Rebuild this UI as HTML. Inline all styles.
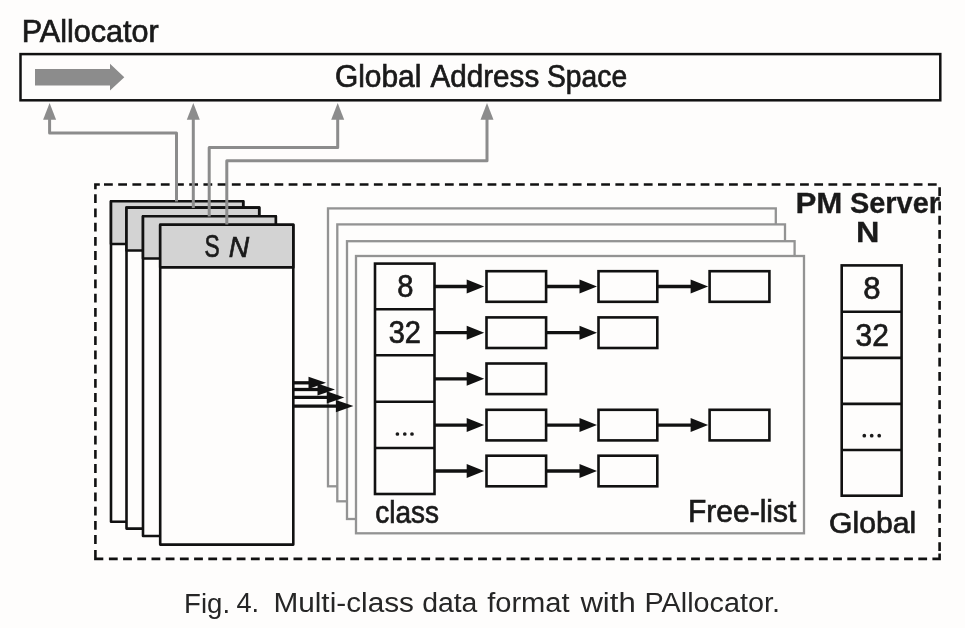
<!DOCTYPE html>
<html><head><meta charset="utf-8"><style>
html,body{margin:0;padding:0;background:#fefdfc;}
svg{display:block;will-change:transform;}
</style></head><body>
<svg width="965" height="628" viewBox="0 0 965 628">
<rect x="0" y="0" width="965" height="628" fill="#fefdfc"/>
<rect x="20.5" y="54.1" width="919.8" height="46.2" fill="#fefdfc" stroke="#111111" stroke-width="2.5"/>
<polygon points="35,69 110,69 110,63.8 124.3,77.2 110,90.6 110,85.5 35,85.5" fill="#8c8c8c"/>
<path d="M104.00 184.5H112.80 M118.20 184.5H127.00 M132.41 184.5H141.21 M146.62 184.5H155.42 M160.82 184.5H169.62 M175.03 184.5H183.83 M189.23 184.5H198.03 M203.44 184.5H212.24 M217.64 184.5H226.44 M231.84 184.5H240.65 M246.05 184.5H254.85 M260.25 184.5H269.06 M274.46 184.5H283.26 M288.66 184.5H297.46 M302.87 184.5H311.67 M317.07 184.5H325.88 M331.28 184.5H340.08 M345.49 184.5H354.29 M359.69 184.5H368.49 M373.89 184.5H382.69 M388.10 184.5H396.90 M402.31 184.5H411.11 M416.51 184.5H425.31 M430.71 184.5H439.51 M444.92 184.5H453.72 M459.12 184.5H467.93 M473.33 184.5H482.13 M487.54 184.5H496.34 M501.74 184.5H510.54 M515.94 184.5H524.74 M530.15 184.5H538.95 M544.36 184.5H553.15 M558.56 184.5H567.36 M572.76 184.5H581.56 M586.97 184.5H595.77 M601.17 184.5H609.97 M615.38 184.5H624.18 M629.59 184.5H638.38 M643.79 184.5H652.59 M658.00 184.5H666.79 M672.20 184.5H681.00 M686.40 184.5H695.20 M700.61 184.5H709.41 M714.82 184.5H723.62 M729.02 184.5H737.82 M743.23 184.5H752.02 M757.43 184.5H766.23 M771.63 184.5H780.43 M785.84 184.5H794.64 M800.04 184.5H808.84 M814.25 184.5H823.05 M828.46 184.5H837.25 M842.66 184.5H851.46 M856.87 184.5H865.66 M871.07 184.5H879.87 M885.27 184.5H894.07 M899.48 184.5H908.28 M913.69 184.5H922.49 M927.89 184.5H936.69 M95.4 194.30V203.10 M95.4 208.50V217.30 M95.4 222.70V231.50 M95.4 236.90V245.70 M95.4 251.10V259.90 M95.4 265.30V274.10 M95.4 279.50V288.30 M95.4 293.70V302.50 M95.4 307.90V316.70 M95.4 322.10V330.90 M95.4 336.30V345.10 M95.4 350.50V359.30 M95.4 364.70V373.50 M95.4 378.90V387.70 M95.4 393.10V401.90 M95.4 407.30V416.10 M95.4 421.50V430.30 M95.4 435.70V444.50 M95.4 449.90V458.70 M95.4 464.10V472.90 M95.4 478.30V487.10 M95.4 492.50V501.30 M95.4 506.70V515.50 M95.4 520.90V529.70 M95.4 535.10V543.90 M108.90 558.9H117.70 M123.10 558.9H131.90 M137.30 558.9H146.10 M151.50 558.9H160.30 M165.70 558.9H174.50 M179.90 558.9H188.70 M194.10 558.9H202.90 M208.30 558.9H217.10 M222.50 558.9H231.30 M236.70 558.9H245.50 M250.90 558.9H259.70 M265.10 558.9H273.90 M279.30 558.9H288.10 M293.50 558.9H302.30 M307.70 558.9H316.50 M321.90 558.9H330.70 M336.10 558.9H344.90 M350.30 558.9H359.10 M364.50 558.9H373.30 M378.70 558.9H387.50 M392.90 558.9H401.70 M407.10 558.9H415.90 M421.30 558.9H430.10 M435.50 558.9H444.30 M449.70 558.9H458.50 M463.90 558.9H472.70 M478.10 558.9H486.90 M492.30 558.9H501.10 M506.50 558.9H515.30 M520.70 558.9H529.50 M534.90 558.9H543.70 M549.10 558.9H557.90 M563.30 558.9H572.10 M577.50 558.9H586.30 M591.70 558.9H600.50 M605.90 558.9H614.70 M620.10 558.9H628.90 M634.30 558.9H643.10 M648.50 558.9H657.30 M662.70 558.9H671.50 M676.90 558.9H685.70 M691.10 558.9H699.90 M705.30 558.9H714.10 M719.50 558.9H728.30 M733.70 558.9H742.50 M747.90 558.9H756.70 M762.10 558.9H770.90 M776.30 558.9H785.10 M790.50 558.9H799.30 M804.70 558.9H813.50 M818.90 558.9H827.70 M833.10 558.9H841.90 M847.30 558.9H856.10 M861.50 558.9H870.30 M875.70 558.9H884.50 M889.90 558.9H898.70 M904.10 558.9H912.90 M918.30 558.9H927.10 M939.6 187.30V196.10 M939.6 201.50V210.30 M939.6 215.70V224.50 M939.6 229.90V238.70 M939.6 244.10V252.90 M939.6 258.30V267.10 M939.6 272.50V281.30 M939.6 286.70V295.50 M939.6 300.90V309.70 M939.6 315.10V323.90 M939.6 329.30V338.10 M939.6 343.50V352.30 M939.6 357.70V366.50 M939.6 371.90V380.70 M939.6 386.10V394.90 M939.6 400.30V409.10 M939.6 414.50V423.30 M939.6 428.70V437.50 M939.6 442.90V451.70 M939.6 457.10V465.90 M939.6 471.30V480.10 M939.6 485.50V494.30 M939.6 499.70V508.50 M939.6 513.90V522.70 M939.6 528.10V536.90 M939.6 542.30V551.10" fill="none" stroke="#111111" stroke-width="2.6"/>
<path d="M95.4 189.3V184.5H99.8 M95.4 549.9V558.9H103.3 M932.4 558.9H939.6V553.5" fill="none" stroke="#111111" stroke-width="2.6" stroke-linejoin="miter"/>
<rect x="111" y="201.2" width="132.2" height="320.50000000000006" fill="#fefdfc" stroke="#111111" stroke-width="2.6" stroke-linejoin="round"/>
<rect x="111" y="201.2" width="132.2" height="42.80000000000001" fill="#d3d3d3" stroke="#111111" stroke-width="2.6" stroke-linejoin="round"/>
<rect x="126.5" y="207.6" width="132.7" height="321.0" fill="#fefdfc" stroke="#111111" stroke-width="2.6" stroke-linejoin="round"/>
<rect x="126.5" y="207.6" width="132.7" height="42.900000000000006" fill="#d3d3d3" stroke="#111111" stroke-width="2.6" stroke-linejoin="round"/>
<rect x="143" y="216.3" width="132.8" height="319.7" fill="#fefdfc" stroke="#111111" stroke-width="2.6" stroke-linejoin="round"/>
<rect x="143" y="216.3" width="132.8" height="42.19999999999999" fill="#d3d3d3" stroke="#111111" stroke-width="2.6" stroke-linejoin="round"/>
<rect x="160.2" y="224.7" width="133.10000000000002" height="319.90000000000003" fill="#fefdfc" stroke="#111111" stroke-width="2.6" stroke-linejoin="round"/>
<rect x="160.2" y="224.7" width="133.10000000000002" height="42.69999999999999" fill="#d3d3d3" stroke="#111111" stroke-width="2.6" stroke-linejoin="round"/>
<polyline points="49.6,119 49.6,132.9 176.5,132.9 176.5,201.5" fill="none" stroke="#8c8c8c" stroke-width="3" stroke-linejoin="round"/>
<polygon points="49.6,102.9 56.1,119.7 43.1,119.7" fill="#8c8c8c"/>
<polyline points="193.3,119 193.3,208" fill="none" stroke="#8c8c8c" stroke-width="3" stroke-linejoin="round"/>
<polygon points="193.3,102.9 199.8,119.7 186.8,119.7" fill="#8c8c8c"/>
<polyline points="337.7,119 337.7,147.6 209.2,147.6 209.2,216.5" fill="none" stroke="#8c8c8c" stroke-width="3" stroke-linejoin="round"/>
<polygon points="337.7,102.9 344.2,119.7 331.2,119.7" fill="#8c8c8c"/>
<polyline points="487,119 487,160.8 226.8,160.8 226.8,224.5" fill="none" stroke="#8c8c8c" stroke-width="3" stroke-linejoin="round"/>
<polygon points="487,102.9 493.5,119.7 480.5,119.7" fill="#8c8c8c"/>
<rect x="328" y="208.4" width="447.79999999999995" height="277.9" fill="#fefdfc" stroke="#939393" stroke-width="2.3"/>
<rect x="337.3" y="224.4" width="447.7" height="276.9" fill="#fefdfc" stroke="#939393" stroke-width="2.3"/>
<rect x="347" y="241.2" width="447.6" height="277.8" fill="#fefdfc" stroke="#939393" stroke-width="2.3"/>
<rect x="356" y="256" width="448" height="277.29999999999995" fill="#fefdfc" stroke="#939393" stroke-width="2.3"/>
<line x1="293.3" y1="382.8" x2="309.5" y2="382.8" stroke="#111111" stroke-width="3.3"/>
<polygon points="308.5,376.7 326,382.8 308.5,388.90000000000003" fill="#111111"/>
<line x1="293.3" y1="389.5" x2="318.5" y2="389.5" stroke="#111111" stroke-width="3.3"/>
<polygon points="317.5,383.4 335,389.5 317.5,395.6" fill="#111111"/>
<line x1="293.3" y1="397.4" x2="327.8" y2="397.4" stroke="#111111" stroke-width="3.3"/>
<polygon points="326.8,391.29999999999995 344.3,397.4 326.8,403.5" fill="#111111"/>
<line x1="293.3" y1="406.1" x2="336.9" y2="406.1" stroke="#111111" stroke-width="3.3"/>
<polygon points="335.9,400.0 353.4,406.1 335.9,412.20000000000005" fill="#111111"/>
<rect x="375" y="263.6" width="59.5" height="230.39999999999998" fill="#fefdfc" stroke="#111111" stroke-width="2.6"/>
<line x1="375" y1="309.3" x2="434.5" y2="309.3" stroke="#111111" stroke-width="2.6"/>
<line x1="375" y1="355.3" x2="434.5" y2="355.3" stroke="#111111" stroke-width="2.6"/>
<line x1="375" y1="401.8" x2="434.5" y2="401.8" stroke="#111111" stroke-width="2.6"/>
<line x1="375" y1="448.0" x2="434.5" y2="448.0" stroke="#111111" stroke-width="2.6"/>
<rect x="841.7" y="265.4" width="59.89999999999998" height="230.3" fill="#fefdfc" stroke="#111111" stroke-width="2.6"/>
<line x1="841.7" y1="311.8" x2="901.6" y2="311.8" stroke="#111111" stroke-width="2.6"/>
<line x1="841.7" y1="357.9" x2="901.6" y2="357.9" stroke="#111111" stroke-width="2.6"/>
<line x1="841.7" y1="403.9" x2="901.6" y2="403.9" stroke="#111111" stroke-width="2.6"/>
<line x1="841.7" y1="450" x2="901.6" y2="450" stroke="#111111" stroke-width="2.6"/>
<line x1="434.5" y1="286.5" x2="467.7" y2="286.5" stroke="#111111" stroke-width="3.3"/>
<polygon points="466.7,279.5 484.2,286.5 466.7,293.5" fill="#111111"/>
<rect x="486.5" y="271.2" width="59.60000000000002" height="30.6" fill="#fefdfc" stroke="#111111" stroke-width="2.6"/>
<line x1="546.1" y1="286.5" x2="580.5" y2="286.5" stroke="#111111" stroke-width="3.3"/>
<polygon points="579.5,279.5 597.0,286.5 579.5,293.5" fill="#111111"/>
<rect x="598.5" y="271.2" width="58.799999999999955" height="30.6" fill="#fefdfc" stroke="#111111" stroke-width="2.6"/>
<line x1="657.3" y1="286.5" x2="691.6" y2="286.5" stroke="#111111" stroke-width="3.3"/>
<polygon points="690.6,279.5 708.1,286.5 690.6,293.5" fill="#111111"/>
<rect x="709.6" y="271.2" width="59.799999999999955" height="30.6" fill="#fefdfc" stroke="#111111" stroke-width="2.6"/>
<line x1="434.5" y1="332.7" x2="467.7" y2="332.7" stroke="#111111" stroke-width="3.3"/>
<polygon points="466.7,325.7 484.2,332.7 466.7,339.7" fill="#111111"/>
<rect x="486.5" y="317.4" width="59.60000000000002" height="30.6" fill="#fefdfc" stroke="#111111" stroke-width="2.6"/>
<line x1="546.1" y1="332.7" x2="580.5" y2="332.7" stroke="#111111" stroke-width="3.3"/>
<polygon points="579.5,325.7 597.0,332.7 579.5,339.7" fill="#111111"/>
<rect x="598.5" y="317.4" width="58.799999999999955" height="30.6" fill="#fefdfc" stroke="#111111" stroke-width="2.6"/>
<line x1="434.5" y1="378.8" x2="467.7" y2="378.8" stroke="#111111" stroke-width="3.3"/>
<polygon points="466.7,371.8 484.2,378.8 466.7,385.8" fill="#111111"/>
<rect x="486.5" y="363.5" width="59.60000000000002" height="30.6" fill="#fefdfc" stroke="#111111" stroke-width="2.6"/>
<line x1="434.5" y1="425.1" x2="467.7" y2="425.1" stroke="#111111" stroke-width="3.3"/>
<polygon points="466.7,418.1 484.2,425.1 466.7,432.1" fill="#111111"/>
<rect x="486.5" y="409.8" width="59.60000000000002" height="30.6" fill="#fefdfc" stroke="#111111" stroke-width="2.6"/>
<line x1="546.1" y1="425.1" x2="580.5" y2="425.1" stroke="#111111" stroke-width="3.3"/>
<polygon points="579.5,418.1 597.0,425.1 579.5,432.1" fill="#111111"/>
<rect x="598.5" y="409.8" width="58.799999999999955" height="30.6" fill="#fefdfc" stroke="#111111" stroke-width="2.6"/>
<line x1="657.3" y1="425.1" x2="691.6" y2="425.1" stroke="#111111" stroke-width="3.3"/>
<polygon points="690.6,418.1 708.1,425.1 690.6,432.1" fill="#111111"/>
<rect x="709.6" y="409.8" width="59.799999999999955" height="30.6" fill="#fefdfc" stroke="#111111" stroke-width="2.6"/>
<line x1="434.5" y1="471.0" x2="467.7" y2="471.0" stroke="#111111" stroke-width="3.3"/>
<polygon points="466.7,464.0 484.2,471.0 466.7,478.0" fill="#111111"/>
<rect x="486.5" y="455.7" width="59.60000000000002" height="30.6" fill="#fefdfc" stroke="#111111" stroke-width="2.6"/>
<line x1="546.1" y1="471.0" x2="580.5" y2="471.0" stroke="#111111" stroke-width="3.3"/>
<polygon points="579.5,464.0 597.0,471.0 579.5,478.0" fill="#111111"/>
<rect x="598.5" y="455.7" width="58.799999999999955" height="30.6" fill="#fefdfc" stroke="#111111" stroke-width="2.6"/>
<text x="21.70" y="41.60" font-family='"Liberation Sans", sans-serif' font-size="30.65" font-weight="normal" font-style="normal" fill="#1a1a1a" stroke="#1a1a1a" stroke-width="0.7" textLength="137.10" lengthAdjust="spacingAndGlyphs">PAllocator</text>
<text x="334.90" y="87.20" font-family='"Liberation Sans", sans-serif' font-size="31.00" font-weight="normal" font-style="normal" fill="#1a1a1a" stroke="#1a1a1a" stroke-width="0.7" textLength="86.50" lengthAdjust="spacingAndGlyphs">Global</text>
<text x="430.60" y="87.20" font-family='"Liberation Sans", sans-serif' font-size="31.00" font-weight="normal" font-style="normal" fill="#1a1a1a" stroke="#1a1a1a" stroke-width="0.7" textLength="108.60" lengthAdjust="spacingAndGlyphs">Address</text>
<text x="547.00" y="87.20" font-family='"Liberation Sans", sans-serif' font-size="31.00" font-weight="normal" font-style="normal" fill="#1a1a1a" stroke="#1a1a1a" stroke-width="0.7" textLength="80.10" lengthAdjust="spacingAndGlyphs">Space</text>
<text x="204.40" y="256.80" font-family='"Liberation Sans", sans-serif' font-size="31.57" font-weight="normal" font-style="normal" fill="#1a1a1a" stroke="#1a1a1a" stroke-width="0.7" textLength="15.20" lengthAdjust="spacingAndGlyphs">S</text>
<text x="228.70" y="256.80" font-family='"Liberation Sans", sans-serif' font-size="30.37" font-weight="normal" font-style="italic" fill="#1a1a1a" stroke="#1a1a1a" stroke-width="0.7" textLength="20.40" lengthAdjust="spacingAndGlyphs">N</text>
<text x="795.50" y="213.10" font-family='"Liberation Sans", sans-serif' font-size="29.23" font-weight="bold" font-style="normal" fill="#1a1a1a" stroke="#1a1a1a" stroke-width="0.3" textLength="46.90" lengthAdjust="spacingAndGlyphs">PM</text>
<text x="850.00" y="213.10" font-family='"Liberation Sans", sans-serif' font-size="29.23" font-weight="bold" font-style="normal" fill="#1a1a1a" stroke="#1a1a1a" stroke-width="0.3" textLength="90.00" lengthAdjust="spacingAndGlyphs">Server</text>
<text x="856.10" y="241.80" font-family='"Liberation Sans", sans-serif' font-size="29.17" font-weight="bold" font-style="normal" fill="#1a1a1a" stroke="#1a1a1a" stroke-width="0.3" textLength="23.40" lengthAdjust="spacingAndGlyphs">N</text>
<text x="397.20" y="297.10" font-family='"Liberation Sans", sans-serif' font-size="30.50" font-weight="normal" font-style="normal" fill="#1a1a1a" stroke="#1a1a1a" stroke-width="0.7" textLength="16.20" lengthAdjust="spacingAndGlyphs">8</text>
<text x="388.70" y="343.20" font-family='"Liberation Sans", sans-serif' font-size="30.50" font-weight="normal" font-style="normal" fill="#1a1a1a" stroke="#1a1a1a" stroke-width="0.7" textLength="32.30" lengthAdjust="spacingAndGlyphs">32</text>
<text x="863.20" y="299.10" font-family='"Liberation Sans", sans-serif' font-size="30.50" font-weight="normal" font-style="normal" fill="#1a1a1a" stroke="#1a1a1a" stroke-width="0.7" textLength="17.30" lengthAdjust="spacingAndGlyphs">8</text>
<text x="855.50" y="345.80" font-family='"Liberation Sans", sans-serif' font-size="30.50" font-weight="normal" font-style="normal" fill="#1a1a1a" stroke="#1a1a1a" stroke-width="0.7" textLength="33.30" lengthAdjust="spacingAndGlyphs">32</text>
<text x="375.20" y="522.60" font-family='"Liberation Sans", sans-serif' font-size="31.16" font-weight="normal" font-style="normal" fill="#1a1a1a" stroke="#1a1a1a" stroke-width="0.7" textLength="63.80" lengthAdjust="spacingAndGlyphs">class</text>
<text x="688.00" y="521.90" font-family='"Liberation Sans", sans-serif' font-size="31.16" font-weight="normal" font-style="normal" fill="#1a1a1a" stroke="#1a1a1a" stroke-width="0.7" textLength="108.30" lengthAdjust="spacingAndGlyphs">Free-list</text>
<text x="829.00" y="533.10" font-family='"Liberation Sans", sans-serif' font-size="30.20" font-weight="normal" font-style="normal" fill="#1a1a1a" stroke="#1a1a1a" stroke-width="0.7" textLength="87.30" lengthAdjust="spacingAndGlyphs">Global</text>
<text x="184.10" y="613.00" font-family='"Liberation Sans", sans-serif' font-size="27.00" font-weight="normal" font-style="normal" fill="#262626" stroke="#262626" stroke-width="0.0" textLength="46.00" lengthAdjust="spacingAndGlyphs">Fig.</text>
<text x="236.40" y="612.40" font-family='"Liberation Sans", sans-serif' font-size="27.00" font-weight="normal" font-style="normal" fill="#262626" stroke="#262626" stroke-width="0.0" textLength="22.70" lengthAdjust="spacingAndGlyphs">4.</text>
<text x="273.40" y="612.40" font-family='"Liberation Sans", sans-serif' font-size="27.00" font-weight="normal" font-style="normal" fill="#262626" stroke="#262626" stroke-width="0.0" textLength="140.60" lengthAdjust="spacingAndGlyphs">Multi-class</text>
<text x="422.20" y="612.40" font-family='"Liberation Sans", sans-serif' font-size="27.00" font-weight="normal" font-style="normal" fill="#262626" stroke="#262626" stroke-width="0.0" textLength="55.20" lengthAdjust="spacingAndGlyphs">data</text>
<text x="487.20" y="612.40" font-family='"Liberation Sans", sans-serif' font-size="27.00" font-weight="normal" font-style="normal" fill="#262626" stroke="#262626" stroke-width="0.0" textLength="82.40" lengthAdjust="spacingAndGlyphs">format</text>
<text x="580.40" y="612.40" font-family='"Liberation Sans", sans-serif' font-size="27.00" font-weight="normal" font-style="normal" fill="#262626" stroke="#262626" stroke-width="0.0" textLength="55.30" lengthAdjust="spacingAndGlyphs">with</text>
<text x="644.50" y="612.40" font-family='"Liberation Sans", sans-serif' font-size="27.00" font-weight="normal" font-style="normal" fill="#262626" stroke="#262626" stroke-width="0.0" textLength="135.50" lengthAdjust="spacingAndGlyphs">PAllocator.</text>
<circle cx="397.4" cy="434" r="1.85" fill="#1a1a1a"/>
<circle cx="404.8" cy="434" r="1.85" fill="#1a1a1a"/>
<circle cx="412" cy="434" r="1.85" fill="#1a1a1a"/>
<circle cx="864.3" cy="435.7" r="1.85" fill="#1a1a1a"/>
<circle cx="871.7" cy="435.7" r="1.85" fill="#1a1a1a"/>
<circle cx="879.2" cy="435.7" r="1.85" fill="#1a1a1a"/>
</svg>
</body></html>
